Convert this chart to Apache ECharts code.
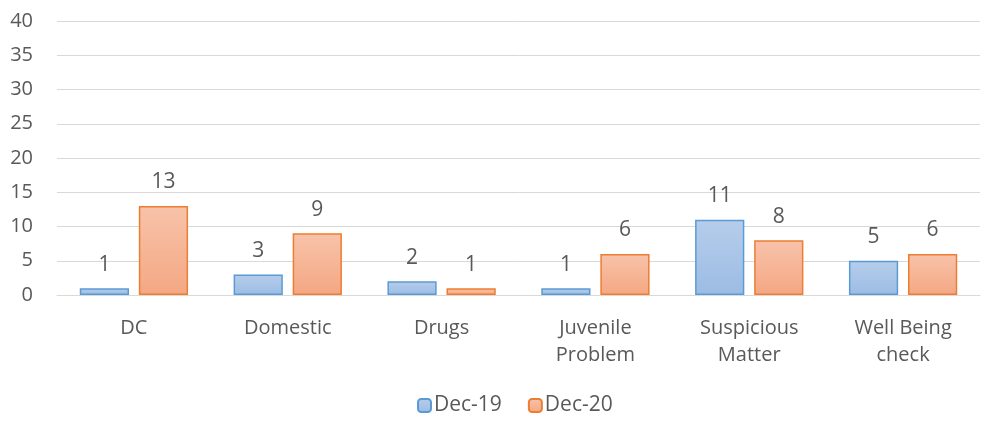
<!DOCTYPE html>
<html><head><meta charset="utf-8">
<script src="https://cdn.jsdelivr.net/npm/echarts@6/dist/echarts.min.js"></script>
<style>html,body{margin:0;padding:0;background:#fff}#c{width:984px;height:422px}</style>
</head><body><div id="c"></div>
<script>
const categories = ['DC', 'Domestic', 'Drugs', 'Juvenile\nProblem', 'Suspicious\nMatter', 'Well Being\ncheck'];
const dec19 = [1, 3, 2, 1, 11, 5];
const dec20 = [13, 9, 1, 6, 8, 6];
const seriesNames = ['Dec-19', 'Dec-20'];
const yTicks = {min: 0, max: 40, interval: 5};

const font = '"Open Sans", sans-serif';
const chart = echarts.init(document.getElementById('c'));
function grad(a, b) {
  return new echarts.graphic.LinearGradient(0, 0, 0, 1, [{offset: 0, color: a}, {offset: 1, color: b}]);
}
chart.setOption({
  animation: false,
  textStyle: {fontFamily: font},
  grid: {left: 57, right: 4, top: 21, bottom: 127},
  legend: {
    data: seriesNames, bottom: 1, left: 412, itemWidth: 13, itemHeight: 13, itemGap: 26,
    textStyle: {fontSize: 21, color: '#595959', fontFamily: font, padding: [0, 0, 0, -2]}
  },
  xAxis: {
    type: 'category', data: categories,
    axisLine: {lineStyle: {color: '#d9d9d9'}}, axisTick: {show: false},
    axisLabel: {fontSize: 20, color: '#595959', lineHeight: 27, margin: 20, interval: 0}
  },
  yAxis: {
    type: 'value', min: yTicks.min, max: yTicks.max, interval: yTicks.interval,
    axisLine: {show: false}, axisTick: {show: false},
    splitLine: {lineStyle: {color: '#d9d9d9'}},
    axisLabel: {fontSize: 20, color: '#595959', margin: 24}
  },
  series: [
    {name: seriesNames[0], type: 'bar', data: dec19, barWidth: '32%', barGap: '20%',
     itemStyle: {color: grad('#b6cdeb', '#9cbce4'), borderColor: '#5b9bd5', borderWidth: 1.5},
     label: {show: true, position: 'top', distance: 13, fontSize: 21, color: '#595959', fontFamily: font}},
    {name: seriesNames[1], type: 'bar', data: dec20, barWidth: '32%',
     itemStyle: {color: grad('#f8c3aa', '#f4a783'), borderColor: '#ed7d31', borderWidth: 1.5},
     label: {show: true, position: 'top', distance: 13, fontSize: 21, color: '#595959', fontFamily: font}}
  ]
});
</script></body></html>
